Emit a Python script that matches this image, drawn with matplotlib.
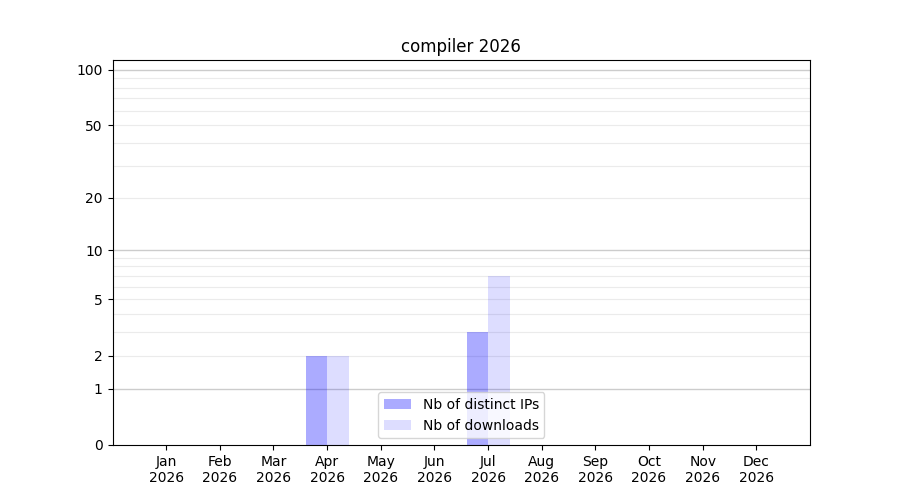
import numpy as np
import matplotlib.pyplot as plt

months = ['Jan', 'Feb', 'Mar', 'Apr', 'May', 'Jun', 'Jul', 'Aug', 'Sep', 'Oct', 'Nov', 'Dec']
year = 2026
distinct_ips = [0, 0, 0, 2, 0, 0, 3, 0, 0, 0, 0, 0]
downloads = [0, 0, 0, 2, 0, 0, 7, 0, 0, 0, 0, 0]
yticks = [0, 1, 2, 5, 10, 20, 50, 100]

x = np.arange(len(months))
width = 0.4

fig, ax = plt.subplots(figsize=(9, 5), dpi=100)
ax.set_yscale('function', functions=(lambda v: np.log10(1 + np.maximum(v, 0)),
                                     lambda v: 10 ** v - 1))

# grille : fine pour 2..9, 20..90, plus marquee pour 1, 10, 100
for lvl in list(range(2, 10)) + list(range(20, 100, 10)):
    ax.axhline(lvl, color='#ebebeb', lw=0.8, zorder=0)
for lvl in [1, 10, 100]:
    ax.axhline(lvl, color='#cccccc', lw=1.0, zorder=0)

ax.bar(x - width / 2, distinct_ips, width, color='blue', alpha=0.33,
       label='Nb of distinct IPs', zorder=2)
ax.bar(x + width / 2, downloads, width, color='blue', alpha=0.135,
       label='Nb of downloads', zorder=2)

ax.set_xlim(-1, 12)
ax.set_ylim(0, 113)
ax.set_yticks(yticks)
ax.set_yticklabels([str(t) for t in yticks])
ax.yaxis.set_minor_locator(plt.NullLocator())
ax.set_xticks(x)
ax.set_xticklabels([f'{m}\n{year}' for m in months])
ax.set_title(f'compiler {year}')
ax.legend(loc='lower center')

plt.savefig('out.png')
